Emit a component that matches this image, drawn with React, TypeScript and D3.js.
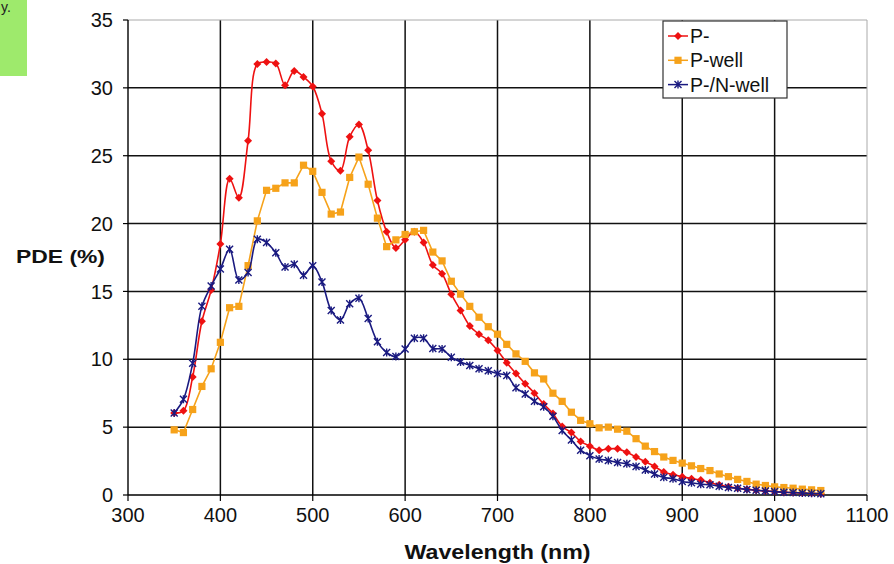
import React from "react";
import * as d3 from "d3";

const WIDTH = 894;
const HEIGHT = 564;
const MARGIN = { top: 20, right: 27, bottom: 69, left: 128 };

const wavelengths = [
  350, 360, 370, 380, 390, 400, 410, 420, 430, 440, 450, 460, 470, 480, 490, 500,
  510, 520, 530, 540, 550, 560, 570, 580, 590, 600, 610, 620, 630, 640, 650, 660,
  670, 680, 690, 700, 710, 720, 730, 740, 750, 760, 770, 780, 790, 800, 810, 820,
  830, 840, 850, 860, 870, 880, 890, 900, 910, 920, 930, 940, 950, 960, 970, 980,
  990, 1000, 1010, 1020, 1030, 1040, 1050,
];

const pMinus = [
  6.05, 6.2, 8.7, 12.8, 15.1, 18.5, 23.3, 21.9, 26.1, 31.75, 31.9, 31.8, 30.2, 31.25, 30.8, 30.1,
  28.1, 24.6, 23.9, 26.4, 27.3, 25.4, 21.7, 19.4, 18.2, 18.8, 19.4, 18.6, 16.95, 16.3, 14.8, 13.6,
  12.45, 11.85, 11.4, 10.65, 9.75, 8.95, 8.2, 7.5, 6.7, 6.0, 5.05, 4.6, 3.95, 3.6, 3.3, 3.4,
  3.4, 3.15, 2.8, 2.45, 2.1, 1.7, 1.5, 1.35, 1.2, 1.1, 0.9, 0.75, 0.6, 0.5, 0.42, 0.35,
  0.3, 0.25, 0.2, 0.18, 0.15, 0.12, 0.1,
];

const pWell = [
  4.8, 4.6, 6.3, 8.0, 9.3, 11.25, 13.8, 13.9, 16.9, 20.2, 22.45, 22.6, 23.0, 23.0, 24.3, 23.85,
  22.3, 20.7, 20.85, 23.4, 24.9, 22.9, 20.4, 18.3, 18.8, 19.2, 19.4, 19.5, 17.9, 17.25, 15.75, 14.8,
  13.9, 13.1, 12.4, 11.85, 11.1, 10.4, 9.85, 9.0, 8.55, 7.5, 6.9, 6.1, 5.5, 5.25, 4.95, 5.0,
  4.85, 4.7, 4.15, 3.6, 3.2, 2.8, 2.55, 2.35, 2.15, 1.95, 1.8, 1.55, 1.35, 1.15, 1.0, 0.8,
  0.7, 0.6, 0.55, 0.5, 0.43, 0.38, 0.33,
];

const pNWell = [
  6.05, 7.05, 9.7, 13.9, 15.4, 16.65, 18.1, 15.85, 16.4, 18.85, 18.6, 17.85, 16.8, 17.0, 16.2, 16.9,
  15.7, 13.6, 12.9, 14.1, 14.5, 13.0, 11.3, 10.5, 10.2, 10.75, 11.55, 11.55, 10.8, 10.75, 10.15, 9.8,
  9.55, 9.3, 9.15, 8.95, 8.8, 7.9, 7.45, 6.9, 6.5, 5.8, 4.75, 4.05, 3.3, 2.9, 2.65, 2.55,
  2.4, 2.3, 2.1, 1.85, 1.55, 1.3, 1.2, 1.0, 0.9, 0.8, 0.75, 0.65, 0.55, 0.5, 0.4, 0.35,
  0.3, 0.25, 0.2, 0.18, 0.15, 0.12, 0.1,
];

const xTicks = [300, 400, 500, 600, 700, 800, 900, 1000, 1100];
const yTicks = [0, 5, 10, 15, 20, 25, 30, 35];

const seriesNames = ["P-", "P-well", "P-/N-well"];
const seriesValues = [pMinus, pWell, pNWell];
const colors = ["#ee1111", "#f6a21a", "#1a1a80"];
const markers = ["diamond", "square", "star"];
const smooth = [true, false, true];

const FONT = "'Liberation Sans', Arial, sans-serif";

const Marker = ({ type, x, y, color }: { type: string; x: number; y: number; color: string }) => {
  if (type === "diamond") {
    const s = 4;
    return <path d={`M${x},${y - s}L${x + s},${y}L${x},${y + s}L${x - s},${y}Z`} fill={color} />;
  }
  if (type === "square") {
    const s = 3.6;
    return <rect x={x - s} y={y - s} width={s * 2} height={s * 2} fill={color} />;
  }
  const s = 3.5;
  return (
    <path
      d={`M${x - s},${y - s}L${x + s},${y + s}M${x - s},${y + s}L${x + s},${y - s}M${x},${y - s - 0.5}L${x},${y + s + 0.5}`}
      stroke={color}
      strokeWidth={1.4}
      fill="none"
    />
  );
};

const App = () => {
  const x = d3.scaleLinear().domain([300, 1100]).range([MARGIN.left, WIDTH - MARGIN.right]);
  const y = d3.scaleLinear().domain([0, 35]).range([HEIGHT - MARGIN.bottom, MARGIN.top]);

  const x0 = x(300);
  const x1 = x(1100);
  const y0 = y(0);
  const y1 = y(35);

  return (
    <svg
      width={WIDTH}
      height={HEIGHT}
      style={{ position: "absolute", left: 0, top: 0, background: "#fff", fontFamily: FONT }}
    >
      {/* cropped green note from the source slide */}
      <rect x={0} y={0} width={27} height={76} fill="#9eea6c" />
      <text x={1} y={12} fontSize={14} fill="#222">y.</text>

      {/* grid */}
      {yTicks.filter((t) => t > 0 && t < 35).map((t) => (
        <line key={"gy" + t} x1={x0} x2={x1} y1={y(t)} y2={y(t)} stroke="#111" strokeWidth={1.5} />
      ))}
      {xTicks.filter((t) => t > 300 && t < 1100).map((t) => (
        <line key={"gx" + t} x1={x(t)} x2={x(t)} y1={y1} y2={y0} stroke="#111" strokeWidth={1.5} />
      ))}
      <line x1={x0} x2={x1} y1={y1} y2={y1} stroke="#aaa" strokeWidth={1} />
      <line x1={x1} x2={x1} y1={y1} y2={y0} stroke="#aaa" strokeWidth={1} />

      {/* axes */}
      <line x1={x0} x2={x0} y1={y1} y2={y0} stroke="#000" strokeWidth={1.4} />
      <line x1={x0} x2={x1} y1={y0} y2={y0} stroke="#000" strokeWidth={1.4} />
      {yTicks.map((t) => (
        <g key={"ty" + t}>
          <line x1={x0 - 5} x2={x0} y1={y(t)} y2={y(t)} stroke="#000" strokeWidth={1.2} />
          <text x={x0 - 15} y={y(t)} dy="0.36em" textAnchor="end" fontSize={20} fill="#111">
            {t}
          </text>
        </g>
      ))}
      {xTicks.map((t) => (
        <g key={"tx" + t}>
          <line x1={x(t)} x2={x(t)} y1={y0} y2={y0 + 6} stroke="#000" strokeWidth={1.2} />
          <text x={x(t)} y={y0 + 27} textAnchor="middle" fontSize={20} fill="#111">
            {t}
          </text>
        </g>
      ))}
      <text
        x={(x0 + x1) / 2}
        y={559}
        textAnchor="middle"
        fontSize={21}
        fontWeight="bold"
        fill="#111"
        textLength={186}
        lengthAdjust="spacingAndGlyphs"
      >
        Wavelength (nm)
      </text>
      <text
        x={16}
        y={263}
        fontSize={19}
        fontWeight="bold"
        fill="#111"
        textLength={89}
        lengthAdjust="spacingAndGlyphs"
      >
        PDE (%)
      </text>

      {/* series */}
      {seriesValues.map((vals, si) => {
        const pts: [number, number][] = wavelengths.map((w, i) => [x(w), y(vals[i])]);
        const line = d3
          .line()
          .curve(smooth[si] ? d3.curveCatmullRom.alpha(0.5) : d3.curveLinear)(pts);
        return (
          <g key={seriesNames[si]}>
            <path d={line || ""} fill="none" stroke={colors[si]} strokeWidth={1.6} />
            {pts.map((p, i) => (
              <Marker key={i} type={markers[si]} x={p[0]} y={p[1]} color={colors[si]} />
            ))}
          </g>
        );
      })}

      {/* legend */}
      <g>
        <rect x={663} y={21} width={124} height={77} fill="#fff" stroke="#333" strokeWidth={1.2} />
        {seriesNames.map((name, i) => {
          const cy = 36 + i * 24.3;
          return (
            <g key={name}>
              <line x1={668} x2={688} y1={cy} y2={cy} stroke={colors[i]} strokeWidth={1.5} />
              <Marker type={markers[i]} x={678} y={cy} color={colors[i]} />
              <text x={690} y={cy} dy="0.36em" fontSize={19.5} fill="#111">
                {name}
              </text>
            </g>
          );
        })}
      </g>
    </svg>
  );
};

export default App;
